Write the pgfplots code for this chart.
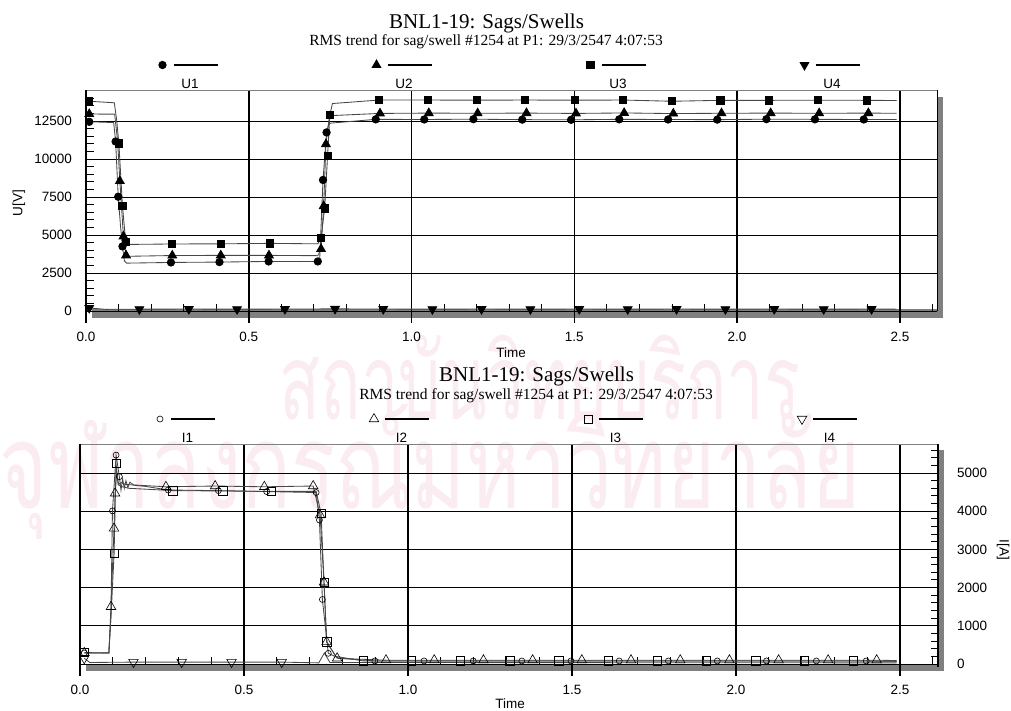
\documentclass[border=0pt]{standalone}
\usepackage{graphicx}
\usepackage{pgfplots}
\pgfplotsset{compat=1.18}
\usepackage{fontspec}
\setmainfont{Liberation Serif}
\setsansfont{Liberation Sans}
\newfontfamily\thaifont[Script=Thai]{Loma}

\definecolor{shadowgray}{RGB}{128,128,128}
\definecolor{wmpink}{RGB}{250,236,241}

% ---------------- RMS trend data ----------------
% voltages
\pgfplotstableread{
t      v
0.010  12450
0.085  12400
0.091  11150
0.099  7520
0.106  5600
0.112  4250
0.118  3300
0.125  3150
0.261  3195
0.410  3220
0.561  3260
0.712  3260
0.718  3500
0.728  8620
0.739  11750
0.746  12350
0.890  12610
1.039  12600
1.190  12620
1.340  12590
1.490  12580
1.638  12610
1.788  12600
1.939  12590
2.090  12620
2.239  12610
2.389  12600
2.490  12600
}\tabUone
\pgfplotstableread{
t      v
0.010  12960
0.088  12950
0.097  11200
0.104  8550
0.115  4910
0.123  3660
0.130  3600
0.265  3650
0.414  3660
0.562  3660
0.712  3640
0.722  4080
0.730  6900
0.737  10980
0.748  12850
0.903  13000
1.053  13020
1.203  13010
1.353  13020
1.505  13000
1.653  13030
1.804  12990
1.952  13010
2.103  13020
2.252  13010
2.403  13020
2.490  13010
}\tabUtwo
\pgfplotstableread{
t      v
0.010  13800
0.087  13700
0.094  12600
0.101  11020
0.112  6900
0.122  4540
0.130  4380
0.265  4410
0.414  4420
0.565  4450
0.712  4420
0.722  4800
0.733  6750
0.742  10200
0.749  12900
0.757  13650
0.900  13880
1.051  13880
1.200  13870
1.348  13880
1.502  13870
1.650  13880
1.800  13800
1.949  13860
2.098  13860
2.248  13870
2.399  13860
2.490  13850
}\tabUthree
\pgfplotstableread{
t      v
0.010  200
0.060  110
0.164  120
0.316  130
0.464  120
0.611  130
0.765  140
0.913  130
1.064  120
1.215  130
1.365  120
1.515  130
1.664  120
1.814  130
1.964  120
2.114  130
2.266  120
2.413  130
2.490  120
}\tabUfour
% currents
\pgfplotstableread{
t      a
0.013  290
0.088  290
0.094  1200
0.099  4010
0.110  5470
0.120  4905
0.125  4550
0.130  4850
0.135  4600
0.140  4800
0.146  4620
0.152  4760
0.165  4680
0.200  4650
0.269  4556
0.422  4540
0.569  4515
0.720  4490
0.730  3770
0.739  1690
0.757  280
0.790  150
0.899  80
1.049  80
1.199  80
1.347  80
1.497  80
1.644  80
1.794  80
1.943  80
2.093  80
2.245  80
2.397  80
2.490  70
}\tabIone
\pgfplotstableread{
t      a
0.013  290
0.088  290
0.0945 1500
0.1037 3550
0.107  4470
0.112  5000
0.118  4700
0.125  4750
0.140  4700
0.262  4640
0.412  4660
0.562  4640
0.711  4660
0.732  3900
0.744  2140
0.752  580
0.784  150
0.933  100
1.080  100
1.230  100
1.380  100
1.530  100
1.680  100
1.830  100
1.980  100
2.130  100
2.281  100
2.429  100
2.490  90
}\tabItwo
\pgfplotstableread{
t      a
0.013  300
0.088  290
0.096  1500
0.104  2900
0.110  5250
0.116  4700
0.125  4650
0.150  4600
0.283  4540
0.435  4530
0.584  4520
0.720  4520
0.735  3940
0.744  2140
0.752  580
0.780  200
0.864  80
1.010  80
1.160  80
1.310  80
1.460  80
1.610  80
1.760  80
1.910  80
2.060  80
2.208  80
2.358  80
2.490  70
}\tabIthree
\pgfplotstableread{
t      a
0.013  150
0.030  40
0.163  50
0.310  50
0.462  50
0.615  50
0.728  30
0.745  290
0.762  40
2.490  30
}\tabIfour

\pgfplotsset{
  panel/.style={
    scale only axis,
    anchor=south west,
    xmin=0, xmax=2.614,
    xtick={0,0.5,1,1.5,2,2.5},
    minor xtick={0.1,0.2,0.3,0.4,0.6,0.7,0.8,0.9,1.1,1.2,1.3,1.4,1.6,1.7,1.8,1.9,2.1,2.2,2.3,2.4,2.6},
    xtick pos=left,
    tick align=inside,
    major tick length=0pt,
    minor tick length=7.5pt,
    minor tick style={black, line width=1pt},
    grid=major,
    major grid style={black},
    every axis x grid/.append style={line width=1.6pt},
    every axis y grid/.append style={line width=0.9pt},
    axis line style={draw=none},
    clip=false,
    scaled x ticks=false, scaled y ticks=false,
    ticklabel style={font=\sffamily\fontsize{13.5}{16}\selectfont},
    /pgf/number format/assume math mode=true,
    xticklabel={\pgfmathprintnumber[fixed,fixed zerofill,precision=1]{\tick}},
    xticklabel style={anchor=base, yshift=-30pt, inner sep=0pt},
    yticklabel={\pgfmathprintnumber[fixed,precision=0,1000 sep={}]{\tick}},
    legend columns=4,
    legend style={draw=none, fill=none, inner sep=0pt, outer sep=0pt,
      column sep=0pt, row sep=0pt,
      nodes={inner sep=0pt, outer sep=0pt, text depth=0pt},
      at={(0.5,1)}, anchor=south},
  },
  trace/.style={black!72, line width=0.85pt},
  lgent/.style={legend image code/.code={%
    \path[draw=none, fill=none] (-79pt,-25pt) rectangle (134pt,8pt);
    \draw[black, line width=2.6pt, solid] (11pt,0pt) -- (55pt,0pt);
    \draw plot coordinates {(0pt,0pt)};
    \node[black, draw=none, fill=none, font=\sffamily\fontsize{13.5}{16}\selectfont, anchor=base, inner sep=0pt]
      at (27.5pt,-23pt) {#1};
  }},
  filledmk/.style={mark options={solid, fill=black, draw=black}},
  openmk/.style={mark options={solid, fill=none, draw=black, line width=0.6pt}},
}

\begin{document}
\begin{tikzpicture}[x=1pt,y=1pt]
\path[use as bounding box] (0,0) rectangle (1011,-710);

% background emblem text
\node[text=wmpink, inner sep=0pt] at (540,-378)
  {\resizebox*{520pt}{85pt}{\thaifont สถาบันวิทยบริการ}};
\node[text=wmpink, inner sep=0pt] at (430,-472)
  {\resizebox*{860pt}{135pt}{\thaifont จุฬาลงกรณ์มหาวิทยาลัย}};

% drop shadows of the two plot frames
\fill[shadowgray] (937,-97) rectangle (943,-318);
\fill[shadowgray] (92,-309) rectangle (943,-318);
\fill[shadowgray] (938,-450) rectangle (944,-671);
\fill[shadowgray] (86,-664) rectangle (944,-671);

% titles
\node[font=\rmfamily\fontsize{21}{24}\selectfont, anchor=base] at (486.5,-28) {BNL1-19: Sags/Swells};
\node[font=\rmfamily\fontsize{15.5}{18}\selectfont, anchor=base] at (486,-45.7)
  {RMS trend for sag/swell \#1254 at P1: 29/3/2547 4:07:53};
\node[font=\rmfamily\fontsize{21}{24}\selectfont, anchor=base] at (536.5,-381) {BNL1-19: Sags/Swells};
\node[font=\rmfamily\fontsize{15.5}{18}\selectfont, anchor=base] at (536,-399)
  {RMS trend for sag/swell \#1254 at P1: 29/3/2547 4:07:53};

% axis titles
\node[font=\sffamily\fontsize{13.5}{16}\selectfont, anchor=base] at (511,-357) {Time};
\node[font=\sffamily\fontsize{13.5}{16}\selectfont, anchor=base] at (510,-708.5) {Time};
\node[font=\sffamily\fontsize{13.5}{16}\selectfont, rotate=90] at (19,-203) {U[V]};
\node[font=\sffamily\fontsize{13.5}{16}\selectfont, rotate=-90] at (1003,-550) {I[A]};

% ---------------- voltages ----------------
\begin{axis}[panel,
  at={(86pt,-311pt)}, width=851pt, height=221pt,
  ymin=0, ymax=14540,
  ytick={0,2500,5000,7500,10000,12500},
  minor ytick={500,1000,1500,2000,3000,3500,4000,4500,5500,6000,6500,7000,8000,8500,9000,9500,10500,11000,11500,12000,13000,13500,14000,14500},
  ytick pos=left,
  yticklabel style={anchor=east, xshift=-14pt, inner sep=0pt},
]
\draw[gray, line width=0.8pt] (rel axis cs:0,1) -- (rel axis cs:1,1);
\draw[black, line width=1.4pt] (rel axis cs:0,1) -- ([yshift=-12pt]rel axis cs:0,0);
\draw[black, line width=1pt] (rel axis cs:1,1) -- (rel axis cs:1,0);
\pgfplotsinvokeforeach{0.5,1,1.5,2,2.5}{
  \draw[black, line width=1.6pt] (axis cs:#1,0) -- ([yshift=-12pt]axis cs:#1,0);
}
\addplot[trace, mark=*, mark size=3.7pt, filledmk, lgent={U1},
  mark indices={1,3,4,6,9,10,11,12,14,15,17,18,19,20,21,22,23,24,25,26,27}]
  table[x=t, y=v] {\tabUone};
\addlegendentry{\mbox{}}
\addplot[trace, mark=triangle*, mark size=5pt, filledmk, lgent={U2},
  mark indices={1,4,5,6,8,9,10,12,13,14,16,17,18,19,20,21,22,23,24,25,26}]
  table[x=t, y=v] {\tabUtwo};
\addlegendentry{\mbox{}}
\addplot[trace, mark=square*, mark size=3.6pt, filledmk, lgent={U3},
  mark indices={1,4,5,6,8,9,10,12,13,14,15,17,18,19,20,21,22,23,24,25,26,27}]
  table[x=t, y=v] {\tabUthree};
\addlegendentry{\mbox{}}
\addplot[trace, mark=triangle*, mark size=5pt,
  mark options={solid, fill=black, draw=black, rotate=180}, lgent={U4},
  mark indices={1,3,4,5,6,7,8,9,10,11,12,13,14,15,16,17,18}]
  table[x=t, y=v] {\tabUfour};
\addlegendentry{\mbox{}}
\end{axis}

% ---------------- currents ----------------
\begin{axis}[panel,
  at={(80pt,-664pt)}, width=858pt, height=220pt,
  xmax=2.616,
  ymin=0, ymax=5760,
  ytick={0,1000,2000,3000,4000,5000},
  minor ytick={200,400,600,800,1200,1400,1600,1800,2200,2400,2600,2800,3200,3400,3600,3800,4200,4400,4600,4800,5200,5400,5600},
  ytick pos=right, yticklabel pos=right,
  yticklabel style={anchor=west, xshift=19pt, inner sep=0pt},
]
\draw[gray, line width=0.8pt] (rel axis cs:0,1) -- (rel axis cs:1,1);
\draw[black, line width=1.4pt] (rel axis cs:0,1) -- ([yshift=-12pt]rel axis cs:0,0);
\draw[black, line width=1.2pt] (rel axis cs:1,1) -- ([yshift=-3pt]rel axis cs:1,0);
\pgfplotsinvokeforeach{0.5,1,1.5,2,2.5}{
  \draw[black, line width=1.6pt] (axis cs:#1,0) -- ([yshift=-12pt]axis cs:#1,0);
}
\addplot[trace, mark=o, mark size=3pt, openmk, lgent={I1},
  mark indices={1,4,5,6,15,16,17,18,19,20,21,23,24,25,26,27,28,29,30,31,32,33}]
  table[x=t, y=a] {\tabIone};
\addlegendentry{\mbox{}}
\addplot[trace, mark=triangle, mark size=5.5pt, openmk, lgent={I2},
  mark indices={1,3,4,5,10,11,12,13,14,15,16,17,18,19,20,21,22,23,24,25,26,27,28}]
  table[x=t, y=a] {\tabItwo};
\addlegendentry{\mbox{}}
\addplot[trace, mark=square, mark size=4.2pt, openmk, lgent={I3},
  mark indices={1,4,5,9,10,11,13,14,15,17,18,19,20,21,22,23,24,25,26,27}]
  table[x=t, y=a] {\tabIthree};
\addlegendentry{\mbox{}}
\addplot[trace, mark=triangle, mark size=5.5pt,
  mark options={solid, fill=none, draw=black, line width=0.6pt, rotate=180}, lgent={I4},
  mark indices={1,3,4,5,6}]
  table[x=t, y=a] {\tabIfour};
\addlegendentry{\mbox{}}
\end{axis}
\end{tikzpicture}
\end{document}
